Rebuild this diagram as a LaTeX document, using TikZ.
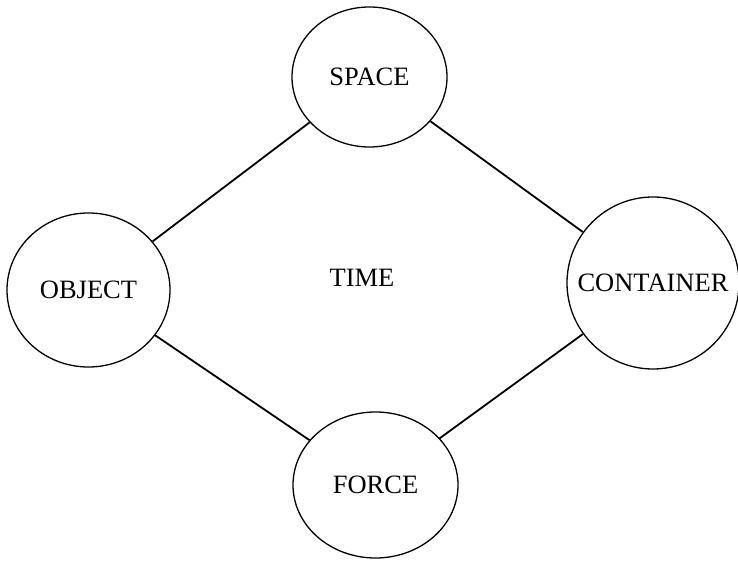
\documentclass[tikz,border=0pt]{standalone}
\usepackage{fontspec}
\setmainfont{Liberation Serif}
\usepackage{tikz}
\usetikzlibrary{shapes.geometric}

\begin{document}
\begin{tikzpicture}[x=1pt, y=1pt,
		blob/.style={draw, ellipse, line width=1.3pt, inner sep=0pt},
		link/.style={line width=1.8pt}]
		\useasboundingbox (0,0) rectangle (738,562);
		\tikzset{every node/.style={font=\fontsize{26.5}{32}\selectfont}}

		% Circles
		\node[blob, minimum width=155pt, minimum height=140pt] (space) at (369.5,485) {SPACE};
		\node[blob, minimum width=163pt, minimum height=154pt] (object) at (88.5,272) {OBJECT};
		\node[blob, minimum width=172pt, minimum height=172pt] (container) at (653,279) {\makebox[0pt]{CONTAINER}};
		\node[blob, minimum width=165pt, minimum height=146pt] (force) at (375.5,77) {FORCE};

		% Lines
		\draw[link] (object) -- (space);
		\draw[link] (space) -- (container);
		\draw[link] (object) -- (force);
		\draw[link] (force) -- (container);

		% Middle
		\node (time) at (362,284) {TIME};
	\end{tikzpicture}
\end{document}
